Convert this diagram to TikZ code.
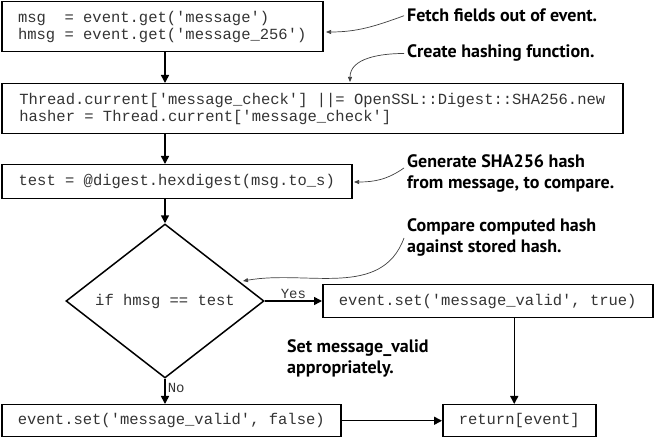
\documentclass[tikz,border=0pt]{standalone}
\usepackage{fontspec}
\setmonofont{Liberation Mono}
\newfontfamily\notefont{PT Sans}
\usetikzlibrary{positioning,arrows.meta,calc,shapes.geometric}

\newcommand{\codefont}{\ttfamily\fontsize{15.5pt}{17pt}\selectfont}

\begin{document}
\begin{tikzpicture}[
    x=1pt, y=1pt,
    codebox/.style={draw, rectangle, line width=1.5pt, inner sep=0pt, anchor=north west, align=left, font=\codefont, text=black!80},
    decision/.style={draw, diamond, line width=1.5pt, inner sep=0pt, minimum width=198pt, minimum height=136pt, font=\codefont, text=black!80},
    flow/.style={draw, line width=1.5pt, -{Triangle[length=8pt,width=8pt]}},
    notetext/.style={inner sep=0pt, anchor=base west, align=left, font=\notefont\bfseries\fontsize{18pt}{21pt}\selectfont},
    noteline/.style={draw, black!75, line width=0.7pt, -{Triangle[length=5pt,width=4pt]}},
    branch/.style={font=\ttfamily\fontsize{14pt}{16pt}\selectfont, text=black!80, inner sep=2pt}
]
\useasboundingbox (0,0) rectangle (654,-438);

% flowchart boxes
\node[codebox, minimum width=321pt, minimum height=50pt] (fetch) at (1,-1)
    {msg\ \ = event.get('message')\\hmsg = event.get('message\_256')};
\node[codebox, minimum width=621pt, minimum height=50pt] (hashfn) at (1,-83)
    {Thread.current['message\_check'] ||= OpenSSL::Digest::SHA256.new\\hasher = Thread.current['message\_check']};
\node[codebox, minimum width=350pt, minimum height=34pt] (digest) at (1,-164)
    {test = @digest.hexdigest(msg.to\_s)};
\node[decision] (check) at (165,-301) {if hmsg == test};
\node[codebox, minimum width=330pt, minimum height=33pt] (setok) at (322,-284)
    {event.set('message\_valid', true)};
\node[codebox, minimum width=339pt, minimum height=32pt] (setbad) at (1,-404)
    {event.set('message\_valid', false)};
\node[codebox, minimum width=153pt, minimum height=32pt] (ret) at (442,-404)
    {return[event]};

% flow
\draw[flow] (check.north |- fetch.south) -- (check.north |- hashfn.north);
\draw[flow] (check.north |- hashfn.south) -- (check.north |- digest.north);
\draw[flow] (check.north |- digest.south) -- (check.north);
\draw[flow] (check.east) -- node[branch, above] (yes) {Yes} (check.east -| setok.west);
\draw[flow] (check.south) -- node[branch, right, yshift=3pt] (no) {No} (check.south |- setbad.north);
\draw[flow] ([xshift=-5pt]ret.north |- setok.south) -- ([xshift=-5pt]ret.north);
\draw[flow] (setbad.east) -- (setbad.east -| ret.west);

% annotations (base = last line)
\node[notetext] (notefetch) at (407,-22) {Fetch fields out of event.};
\node[notetext] (notehash) at (407,-58) {Create hashing function.};
\node[notetext] (notegen) at (407,-189) {Generate SHA256 hash\\from message, to compare.};
\node[notetext] (notecmp) at (407,-253) {Compare computed hash\\against stored hash.};
\node[notetext] (noteset) at (287,-374) {Set message\_valid\\appropriately.};

\coordinate (fetchtip) at (326,-32);
\coordinate (hashtip) at (350,-82);
\coordinate (gentip) at (354,-182);
\coordinate (cmptip) at (243,-281);

\draw[noteline] ([xshift=-3pt]notefetch.west) to[out=200,in=0] (fetchtip);
\draw[noteline] ([xshift=-3pt]notehash.west) to[out=180,in=90] (hashtip);
\draw[noteline] ([xshift=-3pt,yshift=6pt]notegen.west) to[out=215,in=0] (gentip);
\draw[noteline] ([xshift=-3pt]notecmp.west) to[out=250,in=10] (cmptip);
\end{tikzpicture}
\end{document}
